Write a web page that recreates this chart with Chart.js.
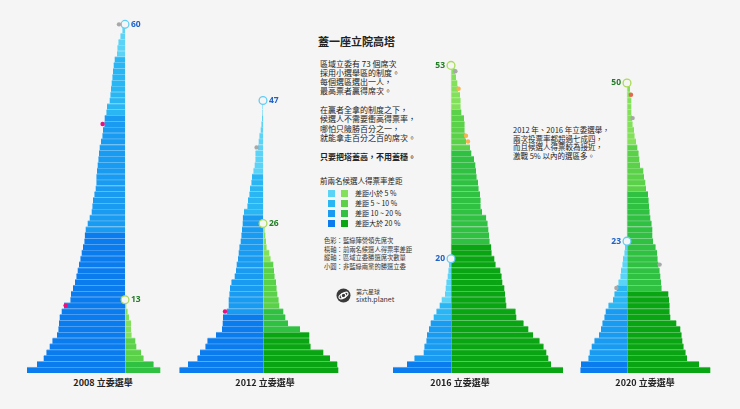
<!DOCTYPE html>
<html lang="zh-Hant">
<head>
<meta charset="utf-8">
<script src="https://cdn.jsdelivr.net/npm/chart.js@4.4.1/dist/chart.umd.min.js"></script>
<style>
  html, body { margin: 0; padding: 0; }
  body {
    width: 740px; height: 409px; position: relative; overflow: hidden;
    background: #f5f5f5; color: #222;
    font-family: "Noto Sans CJK TC", "Noto Sans", sans-serif;
  }
  canvas { position: absolute; }
  .t { position: absolute; white-space: nowrap; }
  .title { left: 318px; top: 35px; font-size: 11px; line-height: 13px; font-weight: 700; }
  .body { left: 320px; font-size: 8px; line-height: 9.1px; }
  .legend-title { left: 320px; top: 176px; font-size: 7.5px; line-height: 9px; }
  .sw { position: absolute; width: 7px; height: 7px; }
  .legend-label { left: 355px; font-size: 7px; line-height: 8px; }
  .notes { left: 324px; top: 237px; font-size: 6.3px; line-height: 8.5px; color: #333; }
  .side-note { left: 513px; top: 126px; font-size: 7.5px; line-height: 8.6px; }
  .year { font-size: 9px; font-weight: 700; line-height: 11px; transform: translateX(-50%); }
</style>
</head>
<body>

<div class="t title">蓋一座立院高塔</div>
<div class="t body" style="top:58.8px">區域立委有 73 個席次<br>採用小選舉區的制度。<br>每個選區選出一人，<br>最高票者贏得席次。</div>
<div class="t body" style="top:105.4px">在贏者全拿的制度之下，<br>候選人不需要衝高得票率，<br>哪怕只險勝百分之一，<br>就能拿走百分之百的席次。</div>
<div class="t body" style="top:152.1px; font-weight:700">只要把塔蓋高，不用蓋穩。</div>

<div class="t legend-title">前兩名候選人得票率差距</div>
<div id="legend"></div>

<div class="t notes">色彩：藍綠陣營領先席次<br>橫軸：前兩名候選人得票率差距<br>縱軸：區域立委勝選席次數量<br>小圓：非藍綠兩黨的勝選立委</div>

<svg class="t" style="left:336px; top:288px" width="15" height="15" viewBox="0 0 15 15">
  <circle cx="7.5" cy="7.5" r="7" fill="#3a3a3a"/>
  <ellipse cx="7.5" cy="7.5" rx="5" ry="2.2" fill="none" stroke="#fff" stroke-width="1.2" transform="rotate(-30 7.5 7.5)"/>
  <circle cx="7.5" cy="7.5" r="2.3" fill="none" stroke="#fff" stroke-width="1.1"/>
</svg>
<div class="t" style="left:356px; top:288px; font-size:6px; line-height:7px; color:#333">第六星球</div>
<div class="t" style="left:356px; top:295px; font-size:7px; line-height:8px; color:#333">sixth.planet</div>

<div class="t side-note">2012 年、2016 年立委選舉，<br>兩次投票率都超過七成四，<br>而且候選人得票較為接近，<br>激戰 5% 以內的選區多。</div>

<canvas id="c2008"></canvas>
<canvas id="c2012"></canvas>
<canvas id="c2016"></canvas>
<canvas id="c2020"></canvas>

<div class="t year" style="left:103px; top:377px">2008 立委選舉</div>
<div class="t year" style="left:265px; top:377px">2012 立委選舉</div>
<div class="t year" style="left:460px; top:377px">2016 立委選舉</div>
<div class="t year" style="left:645px; top:377px">2020 立委選舉</div>

<script>
// margin between the top two candidates (% points), one value per district won,
// listed from the widest (bottom row) to the narrowest (top row)
const blue2008 = [49, 44, 40.7, 39.3, 37.7, 36.3, 34, 33.3, 33, 32.7, 31.7, 30.5, 27.3, 27, 26, 25, 24.3, 23.7, 23, 22.3,
  21.7, 21, 20.3, 20.1, 19.7, 18.7, 17.7, 16.7, 16.3, 16, 15.3, 14.7, 14.3, 14.3, 14, 13.7, 13.3, 13, 12.7, 12,
  11.3, 11, 10.3, 10.2, 9.3, 9, 7.7, 7.3, 7, 6.7, 6.3, 6, 5.7, 5.2, 4, 3.8, 3.3, 2.3, 1.3, 0.8];
const green2008 = [17.7, 14.3, 9.3, 8, 5.7, 5.2, 3.3, 3, 3, 2, 1.3, 0.7, 0.3];

const blue2012 = [41.8, 37.5, 32.8, 31.5, 28.8, 27.8, 23.5, 20.5, 20.2, 20, 18.2, 17.2, 17.2, 16.8, 16.5, 15.8, 14.2, 13.5, 13.2, 12.5,
  12.2, 11.8, 11.2, 10.8, 10.5, 10.2, 10.1, 9.5, 7.8, 7.5, 6.8, 6.5, 5.8, 5.5, 4.8, 4.2, 3.8, 3.8, 2.5, 2.2,
  1.8, 1.2, 0.8, 0.5, 0.3, 0.3, 0.2];
const green2012 = [37.7, 37.2, 33.5, 30.2, 23.8, 23.2, 23.2, 18.5, 12.5, 11.2, 10.2, 8.2, 7.8, 7.2, 6.8, 6.5, 5.8, 5.5, 5.2, 3.8,
  3.2, 1.8, 1.5, 1.2, 0.8, 0.3];

const blue2016 = [29, 22, 18.3, 13.7, 13.3, 12.3, 12, 11, 10.2, 8.7, 7.3, 5.7, 4.7, 3, 2.7, 2.3, 1.7, 1.3, 1, 0.5];
const green2016 = [56, 50, 48.7, 47.7, 46.3, 44.3, 41, 38.7, 36.3, 32.7, 32.3, 27.7, 27.3, 27, 26.7, 25.7, 25.3, 24.7, 22.3, 21.7,
  20.3, 20.1, 19.3, 19, 18.7, 18.3, 17.6, 15.5, 14.8, 14.8, 14.5, 13.8, 13.5, 12.8, 12.5, 12.2, 11.5, 10.2, 9.5, 7.5,
  7.2, 6.8, 6.8, 6.5, 5.2, 4.8, 4.8, 4.5, 3.5, 3.2, 2.5, 2, 1];

const blue2020 = [23.3, 23, 19.3, 18.7, 17.7, 16.3, 14, 13, 12.3, 11.3, 10.7, 9.3, 7, 6.3, 5.2, 4.3, 3.3, 3, 2.3, 2,
  1.3, 1, 0.5];
const green2020 = [41.7, 36, 30, 29.3, 28.3, 27.7, 27.3, 26.7, 24.7, 21.7, 21.3, 21.3, 21, 20.7, 17.3, 17, 16.7, 16.3, 15.7, 15.3,
  15, 14.3, 13, 12.7, 12.7, 12.3, 11.7, 11.3, 11, 10.8, 10.5, 9.5, 9.2, 8.5, 8.2, 6.5, 6.2, 5.8, 5.2, 4.5,
  3.8, 3.5, 2.8, 2.5, 2.2, 2.2, 2.2, 1.8, 1.5, 0.8];

// winners from outside the two big parties: row, signed margin (blue side negative), party
const others2008 = [{ row: 60, margin: -3, party: 'ind' }, { row: 43, margin: -11.2, party: 'npsu' }, { row: 12, margin: -29.7, party: 'npsu' }];
const others2012 = [{ row: 39, margin: -3.2, party: 'ind' }, { row: 11, margin: -19, party: 'npsu' }];
const others2016 = [{ row: 52, margin: 2.2, party: 'ind' }, { row: 49, margin: 3.8, party: 'npp' }, { row: 41, margin: 7.5, party: 'npp' }, { row: 40, margin: 8.5, party: 'npp' }];
const others2020 = [{ row: 48, margin: 2, party: 'tsp' }, { row: 44, margin: 2.8, party: 'ind' }, { row: 19, margin: 16.3, party: 'ind' }, { row: 15, margin: -5.3, party: 'ind' }];

const bucketLabels = ['差距小於 5 %', '差距 5 ~ 10 %', '差距 10 ~ 20 %', '差距大於 20 %'];
const bucketLimits = [5, 10, 20];

const BG = '#f5f5f5';
const bluePalette = ['#5ad3f7', '#2ab5f3', '#189bf0', '#0b7cee'];
const greenPalette = ['#82e05a', '#5bd14a', '#30c042', '#0aa512'];
const partyColors = { ind: '#a8a8a8', npsu: '#e5137f', npp: '#f5b452', tsp: '#e2684f' };

function bucket(v) {
  let i = 0;
  while (i < bucketLimits.length && v >= bucketLimits[i]) i++;
  return i;
}

function lighten(hex, amt) {
  const n = parseInt(hex.slice(1), 16);
  const mix = c => Math.round(c + (255 - c) * amt);
  return `rgb(${mix(n >> 16)}, ${mix((n >> 8) & 255)}, ${mix(n & 255)})`;
}

// legend swatches
const legend = document.getElementById('legend');
bucketLabels.forEach((txt, i) => {
  const cy = 193.3 + i * 9.9;
  legend.insertAdjacentHTML('beforeend',
    `<div class="sw" style="left:328px; top:${cy - 3.5}px; background:${bluePalette[i]}"></div>` +
    `<div class="sw" style="left:341px; top:${cy - 3.5}px; background:${greenPalette[i]}"></div>` +
    `<div class="t legend-label" style="top:${cy - 4}px">${txt}</div>`);
});

const PX_PER_POINT = 2;
const ROWS = 64;

function countLabels(side) {
  return {
    id: 'countLabels',
    afterDatasetsDraw(chart) {
      const { ctx, scales: { x, y } } = chart;
      const sets = [
        [chart.data.datasets[2].data.length, '#2063c8'],
        [chart.data.datasets[3].data.length, '#237d27']
      ];
      ctx.save();
      ctx.font = 'bold 8.5px "Noto Sans", sans-serif';
      ctx.textBaseline = 'middle';
      ctx.textAlign = side === 'left' ? 'right' : 'left';
      const dx = side === 'left' ? -6 : 6;
      sets.forEach(([n, color]) => {
        ctx.fillStyle = color;
        ctx.fillText(String(n), x.getPixelForValue(0) + dx, y.getPixelForValue(n));
      });
      ctx.restore();
    }
  };
}

function tower(id, center, xMin, xMax, blue, green, others, side) {
  const canvas = document.getElementById(id);
  const w = (xMax - xMin) * PX_PER_POINT;
  canvas.width = w;
  canvas.height = 375;
  canvas.style.left = (center + xMin * PX_PER_POINT) + 'px';
  canvas.style.top = '-2px';

  const blueFill = blue.map(v => bluePalette[bucket(v)]);
  const greenFill = green.map(v => greenPalette[bucket(v)]);

  new Chart(canvas, {
    type: 'bar',
    data: {
      datasets: [
        {
          type: 'scatter',
          data: others.map(o => ({ x: o.margin, y: o.row })),
          pointRadius: 2.2,
          pointHoverRadius: 2.2,
          pointBorderWidth: 0,
          pointBackgroundColor: others.map(o => partyColors[o.party]),
          clip: false,
          order: 0
        },
        {
          type: 'scatter',
          data: [{ x: 0, y: blue.length }, { x: 0, y: green.length }],
          pointRadius: 3.9,
          pointHoverRadius: 3.9,
          pointBorderWidth: 1.3,
          pointBorderColor: ['#62cdf3', '#a8dc55'],
          pointBackgroundColor: BG,
          clip: false,
          order: 1
        },
        {
          type: 'bar',
          indexAxis: 'y',
          grouped: false,
          data: blue.map((v, i) => ({ x: -v, y: i + 1 })),
          backgroundColor: blueFill,
          borderColor: blueFill.map(c => lighten(c, 0.4)),
          borderWidth: { top: 1, right: 0, bottom: 0, left: 0 },
          borderSkipped: false,
          barPercentage: 1,
          categoryPercentage: 1,
          order: 2
        },
        {
          type: 'bar',
          indexAxis: 'y',
          grouped: false,
          data: green.map((v, i) => ({ x: v, y: i + 1 })),
          backgroundColor: greenFill,
          borderColor: greenFill.map(c => lighten(c, 0.4)),
          borderWidth: { top: 1, right: 0, bottom: 0, left: 1 },
          borderSkipped: false,
          barPercentage: 1,
          categoryPercentage: 1,
          order: 2
        }
      ]
    },
    options: {
      responsive: false,
      maintainAspectRatio: false,
      animation: false,
      indexAxis: 'y',
      layout: { padding: 0, autoPadding: false },
      plugins: { legend: { display: false }, tooltip: { enabled: false } },
      scales: {
        x: { type: 'linear', min: xMin, max: xMax, offset: false, display: false },
        y: { type: 'linear', min: 0.5, max: ROWS + 0.5, offset: false, display: false }
      }
    },
    plugins: [countLabels(side)]
  });
}

tower('c2008', 125, -55, 45, blue2008, green2008, others2008, 'right');
tower('c2012', 263, -50, 50, blue2012, green2012, others2012, 'right');
tower('c2016', 451, -35, 65, blue2016, green2016, others2016, 'left');
tower('c2020', 627, -35, 55, blue2020, green2020, others2020, 'left');
</script>
</body>
</html>
